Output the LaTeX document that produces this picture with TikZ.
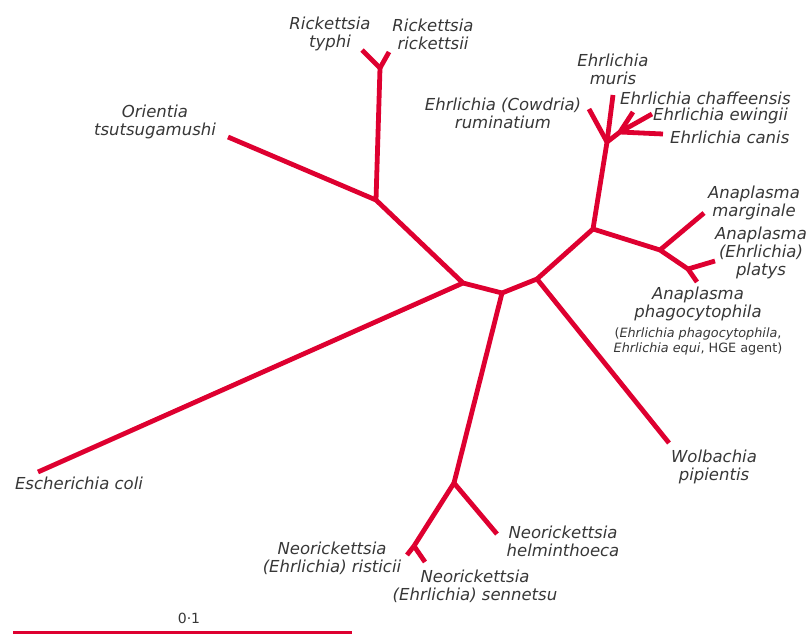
\documentclass[tikz,border=0pt]{standalone}
\usepackage{fontspec}
\setmainfont{DejaVu Sans}
\definecolor{treered}{RGB}{222,0,48}
\definecolor{labelgrey}{RGB}{55,55,55}
\tikzset{
  branch/.style={draw=treered,line width=4.8pt,line join=round},
  taxon/.style={text=labelgrey,font=\fontsize{16.5}{18}\selectfont\itshape,align=center,inner sep=0pt},
  synonym/.style={text=labelgrey,font=\fontsize{12.8}{15}\selectfont,align=center,inner sep=0pt}
}
\begin{document}
\begin{tikzpicture}[x=1pt,y=-1pt]
      \useasboundingbox (0,0) rectangle (811,633);
      \path
        (463,283) coordinate (n1)
        (502,293) coordinate (n2)
        (537,279) coordinate (n3)
        (376,200) coordinate (rk)
        (380,68) coordinate (rs)
        (454,483) coordinate (ne)
        (414,546) coordinate (nr)
        (593,229) coordinate (an)
        (607,142) coordinate (eh)
        (620,132) coordinate (ef)
        (660,250) coordinate (ap)
        (688,269) coordinate (ag);
      \path
        (38,472) coordinate (coli)
        (228,137) coordinate (orient)
        (362,50) coordinate (typhi)
        (389,52) coordinate (rickettsii)
        (407,555) coordinate (risticii)
        (425,562) coordinate (sennetsu)
        (497,534) coordinate (helmin)
        (669,443) coordinate (wolb)
        (589,109) coordinate (rumin)
        (613,95) coordinate (muris)
        (633,112) coordinate (chaff)
        (652,114) coordinate (ewing)
        (663,134) coordinate (canis)
        (704,213) coordinate (margin)
        (715,261) coordinate (platys)
        (697,282) coordinate (phago);
      \begin{scope}[branch]
        \draw (n1) to (coli);
        \draw (n1) to (rk);
        \draw (n1) to (n2);
        \draw (rk) to (orient);
        \draw (rk) to (rs);
        \draw (rs) to (typhi);
        \draw (rs) to (rickettsii);
        \draw (n2) to (ne);
        \draw (n2) to (n3);
        \draw (ne) to (helmin);
        \draw (ne) to (nr);
        \draw (nr) to (risticii);
        \draw (nr) to (sennetsu);
        \draw (n3) to (wolb);
        \draw (n3) to (an);
        \draw (an) to (eh);
        \draw (an) to (ap);
        \draw (eh) to (rumin);
        \draw (eh) to (muris);
        \draw (eh) to (ef);
        \draw (ef) to (chaff);
        \draw (ef) to (ewing);
        \draw (ef) to (canis);
        \draw (ap) to (margin);
        \draw (ap) to (ag);
        \draw (ag) to (platys);
        \draw (ag) to (phago);
      \end{scope}
      \node[taxon] (coliname) at (79,483) {Escherichia coli};
      \node[taxon] (orientname) at (155,122) {Orientia\\tsutsugamushi};
      \node[taxon] (typhiname) at (330,34) {Rickettsia\\typhi};
      \node[taxon] (rickettsiiname) at (433,34) {Rickettsia\\rickettsii};
      \node[taxon] (ruminname) at (503,113) {Ehrlichia (Cowdria)\\ruminatium};
      \node[taxon] (murisname) at (613,69) {Ehrlichia\\muris};
      \node[taxon,anchor=west] (chaffname) at (620,98) {Ehrlichia chaffeensis};
      \node[taxon,anchor=west] (ewingname) at (653,116) {Ehrlichia ewingii};
      \node[taxon,anchor=west] (canisname) at (670,137) {Ehrlichia canis};
      \node[taxon] (marginname) at (754,203) {Anaplasma\\marginale};
      \node[taxon] (platysname) at (761,253) {Anaplasma\\(Ehrlichia)\\platys};
      \node[taxon] (phagoname) at (698,304) {Anaplasma\\phagocytophila};
      \node[synonym] (phagosyn) at (698,341) {(\textit{Ehrlichia phagocytophila},\\\textit{Ehrlichia equi}, HGE agent)};
      \node[taxon] (wolbname) at (714,467) {Wolbachia\\pipientis};
      \node[taxon] (helminname) at (563,541) {Neorickettsia\\helminthoeca};
      \node[taxon] (risticiiname) at (332,558) {Neorickettsia\\(Ehrlichia) risticii};
      \node[taxon] (sennetsuname) at (475,586) {Neorickettsia\\(Ehrlichia) sennetsu};
      \coordinate (barleft) at (13,632);
      \coordinate (barright) at (352,632);
      \draw[branch,line width=3pt] (barleft) to (barright);
      \node[text=labelgrey,font=\fontsize{14}{16}\selectfont,inner sep=0pt] (barname) at (189,618) {0·1};
    \end{tikzpicture}
\end{document}
